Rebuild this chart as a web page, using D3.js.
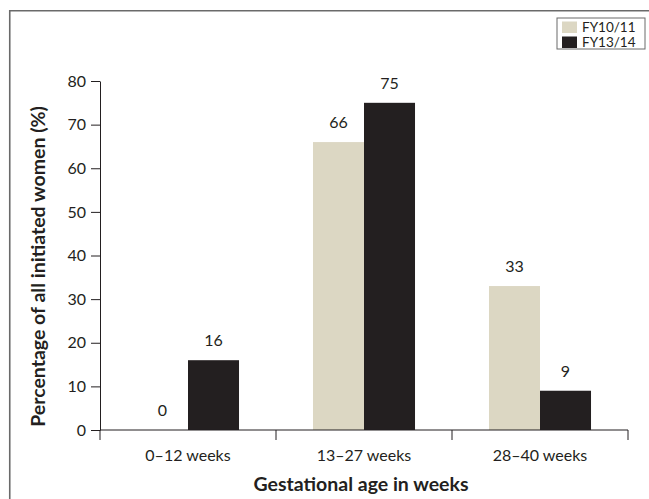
<!DOCTYPE html>
<html>
<head>
<meta charset="utf-8">
<script src="https://cdn.jsdelivr.net/npm/d3@7"></script>
<style>
  html, body { margin: 0; padding: 0; background: #fff; }
  svg { display: block; font-family: Lato, "Open Sans", sans-serif; }
</style>
</head>
<body>
<div id="chart"></div>
<script>
// Gestational age at initiation, two financial years
const categories = ["0\u201312 weeks", "13\u201327 weeks", "28\u201340 weeks"];
const seriesNames = ["FY10/11", "FY13/14"];
const fy1011 = [0, 66, 33];
const fy1314 = [16, 75, 9];
const yTicks = [0, 10, 20, 30, 40, 50, 60, 70, 80];
const colors = ["#dcd7c3", "#231f20"];

const W = 649, H = 499;
const margin = { left: 100, right: 21, top: 81, bottom: 69 };
const ink = "#231f20";

const svg = d3.select("#chart").append("svg")
  .attr("width", W).attr("height", H);

// outer frame: left and top rules only
svg.append("path")
  .attr("d", `M9.75,${H} V10.75 H${W}`)
  .attr("fill", "none").attr("stroke", "#6a6a6a").attr("stroke-width", 1.6);

const x0 = d3.scaleBand().domain(categories)
  .range([margin.left, W - margin.right]).paddingInner(0).paddingOuter(0);
const x1 = d3.scaleBand().domain(seriesNames)
  .range([0, x0.bandwidth()]).paddingInner(0).paddingOuter(0.725);
const y = d3.scaleLinear().domain([0, 80]).range([H - margin.bottom, margin.top]);

const rows = categories.map((c, i) => ({
  cat: c,
  vals: [{ s: seriesNames[0], v: fy1011[i] }, { s: seriesNames[1], v: fy1314[i] }]
}));

const groups = svg.append("g").selectAll("g").data(rows).join("g")
  .attr("transform", d => `translate(${x0(d.cat)},0)`);

groups.selectAll("rect").data(d => d.vals).join("rect")
  .attr("x", d => x1(d.s))
  .attr("y", d => y(d.v))
  .attr("width", x1.bandwidth())
  .attr("height", d => y(0) - y(d.v))
  .attr("fill", (d, i) => colors[i]);

groups.selectAll("text").data(d => d.vals).join("text")
  .attr("x", d => x1(d.s) + x1.bandwidth() / 2)
  .attr("y", d => y(d.v) - 14)
  .attr("text-anchor", "middle")
  .attr("font-size", 16)
  .attr("fill", ink)
  .text(d => d.v);

// y axis
const yAxis = svg.append("g")
  .attr("transform", `translate(${margin.left},0)`)
  .call(d3.axisLeft(y).tickValues(yTicks).tickSize(9).tickPadding(5).tickSizeOuter(0));
yAxis.select(".domain").attr("stroke", ink);
yAxis.selectAll(".tick line").attr("stroke", ink);
yAxis.selectAll(".tick text").attr("font-size", 16).attr("fill", ink)
  .attr("font-family", "Lato, 'Open Sans', sans-serif");

// x axis with boundary ticks between categories
const xAxisG = svg.append("g").attr("transform", `translate(0,${y(0)})`);
xAxisG.append("line")
  .attr("x1", x0.range()[0]).attr("x2", x0.range()[1])
  .attr("stroke", ink);
const bounds = categories.map(c => x0(c)).concat([x0.range()[1]]);
xAxisG.selectAll("line.b").data(bounds).join("line").attr("class", "b")
  .attr("x1", d => d).attr("x2", d => d).attr("y1", 0).attr("y2", 10)
  .attr("stroke", ink);
xAxisG.selectAll("text").data(categories).join("text")
  .attr("x", d => x0(d) + x0.bandwidth() / 2)
  .attr("y", 31)
  .attr("text-anchor", "middle")
  .attr("font-size", 16)
  .attr("fill", ink)
  .text(d => d);

// axis titles
svg.append("text")
  .attr("x", (x0.range()[0] + x0.range()[1]) / 2 - 3)
  .attr("y", 491)
  .attr("text-anchor", "middle")
  .attr("font-size", 19.5)
  .attr("font-weight", "bold")
  .attr("fill", ink)
  .text("Gestational age in weeks");

svg.append("text")
  .attr("transform", `translate(45,${(y(0) + y(80)) / 2 + 11}) rotate(-90)`)
  .attr("text-anchor", "middle")
  .attr("font-size", 19.5)
  .attr("font-weight", "bold")
  .attr("fill", ink)
  .text("Percentage of all initiated women (%)");

// legend
const lg = svg.append("g").attr("transform", "translate(557,18)");
lg.append("rect").attr("width", 88).attr("height", 31)
  .attr("fill", "#fff").attr("stroke", "#6a6a6a").attr("stroke-width", 1);
seriesNames.forEach((s, i) => {
  lg.append("rect").attr("x", 5).attr("y", 3.5 + i * 15).attr("width", 15).attr("height", 11.5)
    .attr("fill", colors[i]);
  lg.append("text").attr("x", 25).attr("y", 14 + i * 15)
    .attr("font-size", 13.5).attr("fill", ink).text(s);
});
</script>
</body>
</html>
